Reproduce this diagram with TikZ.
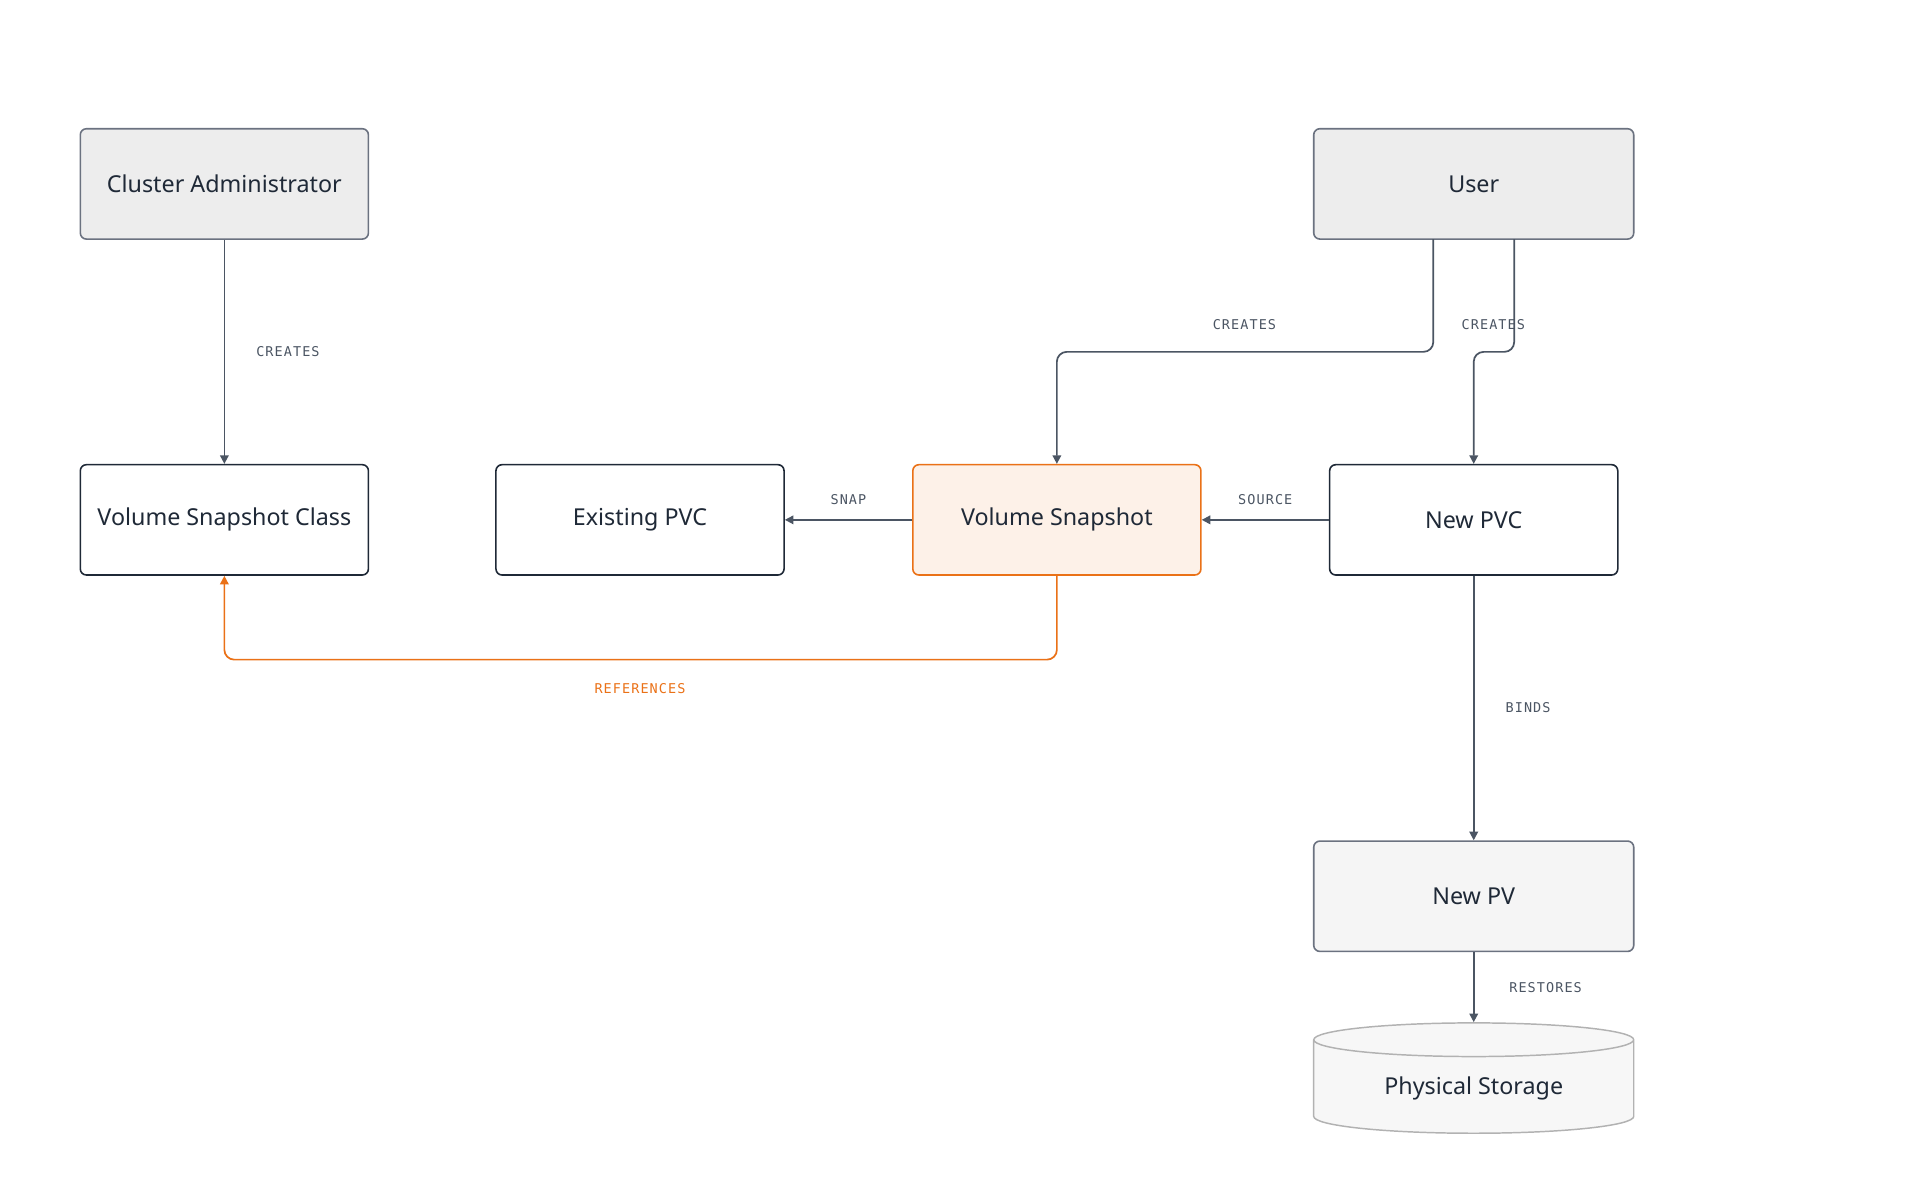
\documentclass[tikz,border=0pt]{standalone}
\usepackage{fontspec}
\setmainfont{Noto Sans}
\newfontfamily\labelfont[LetterSpace=8]{DejaVu Sans Mono}
\usetikzlibrary{shapes.geometric,arrows.meta}
\definecolor{ink}{HTML}{1F2937}
\definecolor{wire}{HTML}{4B5563}
\definecolor{rim}{HTML}{6B7280}
\definecolor{orng}{HTML}{EA7117}
\begin{document}
\begin{tikzpicture}[x=1pt,y=-1pt,>={Triangle[length=7pt,width=7pt]}]
  \tikzset{
    box/.style={draw, rounded corners=5pt, line width=1.3pt, minimum width=235pt, minimum height=90pt, font=\bfseries\fontsize{19}{22}\selectfont, text=ink},
    actor/.style={box, draw=rim, fill=black!7, minimum width=235pt},
    plain/.style={box, draw=ink, fill=white},
    flow/.style={->, line width=1.4pt, draw=wire, rounded corners=8pt},
    tag/.style={font=\labelfont\fontsize{11}{13}\selectfont, text=wire}
  }
  \useasboundingbox (0,0) rectangle (1566,979);
  \node[actor] (admin) at (183,150) {Cluster Administrator};
  \node[actor, minimum width=261pt] (user) at (1202,150) {User};
  \node[plain] (vsc) at (183,424) {Volume Snapshot Class};
  \node[plain] (pvc) at (522,424) {Existing PVC};
  \node[plain, draw=orng, fill=orng!10] (vs) at (862,424) {Volume Snapshot};
  \node[plain] (npvc) at (1202,424) {New PVC};
  \node[actor, fill=black!4, minimum width=261pt] (npv) at (1202,731) {New PV};
  \node[cylinder, shape border rotate=90, aspect=0.18, draw=black!30, line width=1.2pt, fill=black!3,
        minimum width=261pt, minimum height=90pt, font=\bfseries\fontsize{19}{22}\selectfont, text=ink] (disk) at (1202,888) {Physical Storage};

  \coordinate (ua) at (1169,195);
  \coordinate (ub) at (1235,195);

  \draw[flow] (admin) -- (vsc) node[tag, pos=0.5, right=22pt] {CREATES};
  \draw[flow] (ua) -- (1169,287) -| (vs.north);
  \draw[flow] (ub) -- (1235,287) -| (npvc.north);
  \node[tag] at (1015,265) {CREATES};
  \node[tag] at (1218,265) {CREATES};
  \draw[flow] (vs) -- (pvc) node[tag, pos=0.5, above=8pt] {SNAP};
  \draw[flow] (npvc) -- (vs) node[tag, pos=0.5, above=8pt] {SOURCE};
  \draw[flow, draw=orng] (vs.south) -- (862,538) -| (vsc.south);
  \node[tag, text=orng] at (522,562) {REFERENCES};
  \draw[flow] (npvc) -- (npv) node[tag, pos=0.5, right=22pt] {BINDS};
  \draw[flow] (npv) -- (disk.top) node[tag, pos=0.5, right=25pt] {RESTORES};
\end{tikzpicture}
\end{document}
